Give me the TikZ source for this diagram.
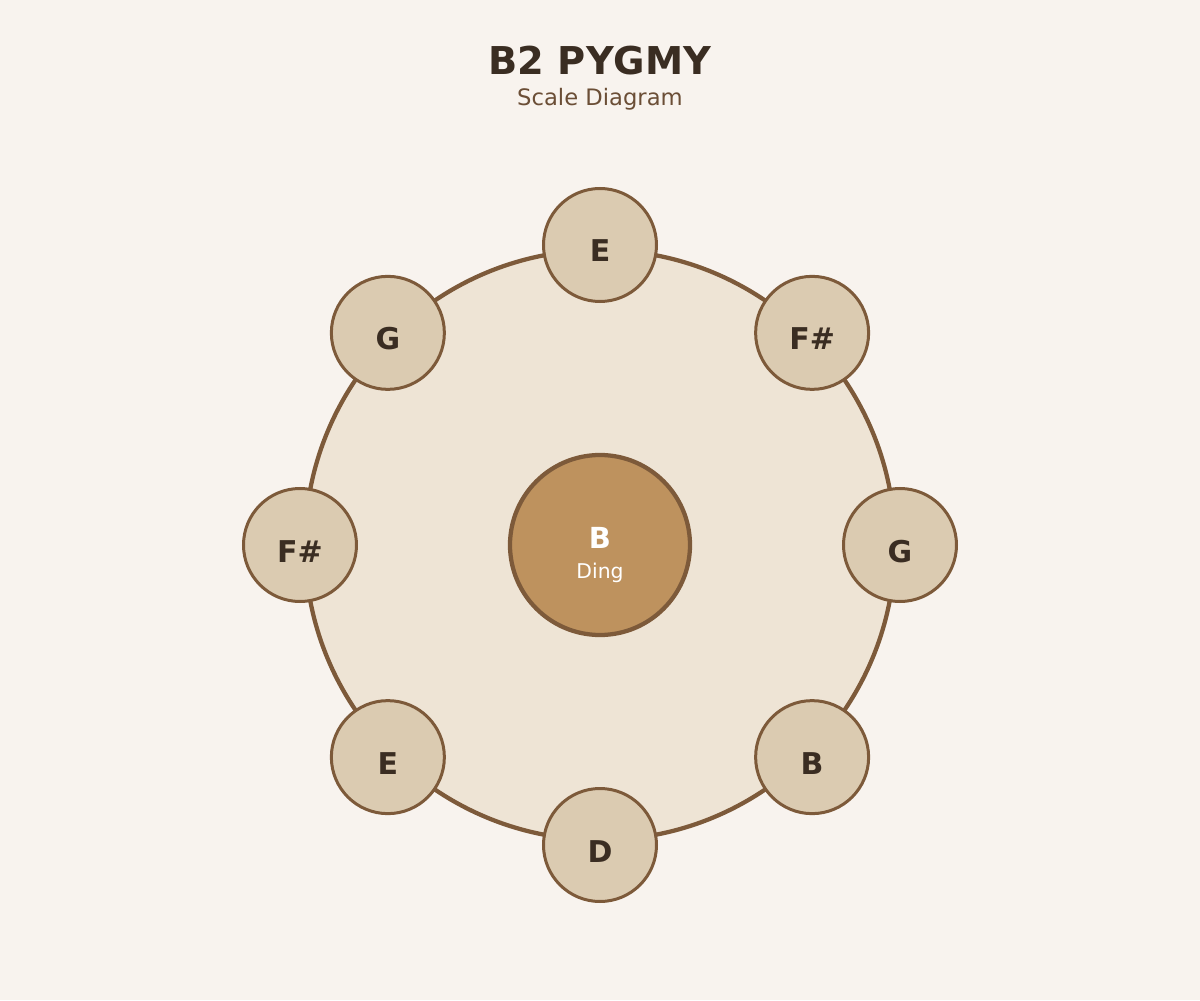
\documentclass[tikz,border=0pt]{standalone}
\usepackage{fontspec}
\setmainfont{DejaVu Sans}
\definecolor{paper}{HTML}{F8F3EE}
\definecolor{shell}{HTML}{EEE4D5}
\definecolor{rim}{HTML}{7D5A3A}
\definecolor{tonefill}{HTML}{DBCBB1}
\definecolor{dingfill}{HTML}{BE925E}
\definecolor{ink}{HTML}{3A2D22}
\definecolor{subink}{HTML}{6B4E36}
\tikzset{
  tone/.style={circle, draw=rim, fill=tonefill, line width=2.25pt, minimum size=84.75pt, inner sep=0pt},
  tonetext/.style={anchor=base, text=ink, font=\bfseries\fontsize{22.5pt}{26pt}\selectfont}
}
\begin{document}
\begin{tikzpicture}[x=0.75pt,y=0.75pt]
  \useasboundingbox[fill=paper] (-600,-455) rectangle (600,545);

  \node[anchor=base, text=ink, font=\bfseries\fontsize{28.75pt}{32pt}\selectfont] (title) at (0,470) {B2 PYGMY};
  \node[anchor=base, text=subink, font=\fontsize{17pt}{20pt}\selectfont] (subtitle) at (0,439) {Scale Diagram};

  \node[circle, draw=rim, fill=shell, line width=3.2pt, minimum size=442.5pt, inner sep=0pt] (body) at (0,0) {};

  \foreach \theta/\note [count=\i] in {90/E,45/F\#,0/G,-45/B,-90/D,-135/E,180/F\#,135/G}{
    \node[tone] (tone\i) at (\theta:300) {};
    \node[tonetext] (label\i) at ([yshift=-12.75pt]tone\i.center) {\note};
  }

  \node[circle, draw=rim, fill=dingfill, line width=3.2pt, minimum size=135pt, inner sep=0pt] (ding) at (0,0) {};
  \node[anchor=base, text=white, font=\bfseries\fontsize{21.75pt}{26pt}\selectfont] (dingnote) at (0,-3) {B};
  \node[anchor=base, text=white, font=\fontsize{15.25pt}{18pt}\selectfont] (dingname) at (0,-33) {Ding};
\end{tikzpicture}
\end{document}
